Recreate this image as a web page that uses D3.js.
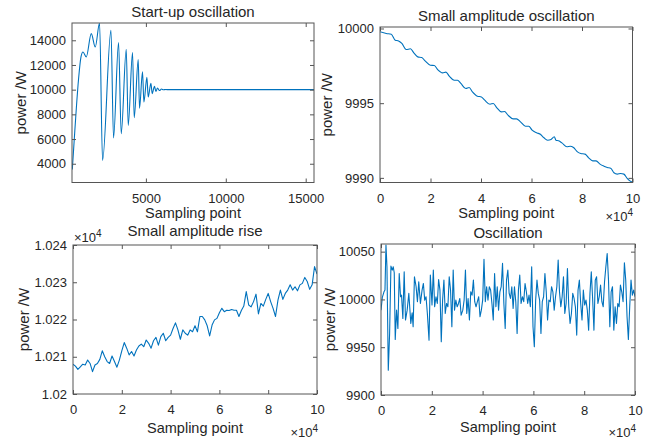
<!DOCTYPE html>
<html>
<head>
<meta charset="utf-8">
<script src="https://cdn.jsdelivr.net/npm/d3@7"></script>
<style>
  body { margin: 0; background: #fff; }
  svg { display: block; font-family: "Liberation Sans", Arial, Helvetica, sans-serif; }
</style>
</head>
<body>
<svg id="chart" width="654" height="442"></svg>
<script>
// ---- Start-up oscillation (peaks and troughs) ----
const startX = [394, 519, 644, 788, 938, 1063, 1269, 1581, 1831, 2100, 2288, 2813, 2975, 3288, 3456, 3769, 3894, 4163, 4269, 4519, 4600, 4788, 4875, 5063, 5144, 5313, 5394, 5538, 5625, 5725, 5850, 5975, 6100, 6250, 6400, 15520];
const startY = [3540, 6030, 8460, 10900, 12650, 13050, 12650, 14540, 13460, 15400, 4270, 14810, 6080, 13810, 6435, 13270, 7108, 13000, 7730, 12430, 8500, 11450, 9000, 11000, 9400, 10520, 9680, 10280, 9850, 10130, 9930, 10050, 9990, 10010, 10000, 10000];
const startXTicks = [5000, 10000, 15000];
const startXLabels = ["5000", "10000", "15000"];
const startYTicks = [4000, 6000, 8000, 10000, 12000, 14000];
const startYLabels = ["4000", "6000", "8000", "10000", "12000", "14000"];

// ---- Small amplitude oscillation ----
const driftX = [0, 2490, 4460, 6040, 7350, 8660, 10370, 12070, 13390, 14960, 16540, 17850, 19950, 21520, 22830, 24800, 26120, 27430, 29400, 30710, 32020, 33990, 35300, 36610, 38580, 40160, 41470, 43570, 44880, 46190, 48030, 49340, 50660, 52760, 54070, 55640, 57610, 58920, 60240, 62200, 63520, 64830, 66400, 67720, 69030, 69690, 70730, 72050, 74020, 75330, 76640, 78210, 79530, 81230, 82550, 84250, 85560, 87140, 88710, 90030, 91340, 92650, 93960, 95280, 96590, 97900, 98950, 100000];
const driftY = [9999.78, 9999.67, 9999.62, 9999.22, 9999.17, 9999.00, 9998.59, 9998.64, 9998.37, 9998.10, 9998.06, 9997.83, 9997.54, 9997.52, 9997.25, 9997.03, 9997.08, 9996.81, 9996.54, 9996.54, 9996.32, 9995.98, 9996.05, 9995.76, 9995.47, 9995.42, 9995.20, 9994.93, 9994.98, 9994.71, 9994.42, 9994.44, 9994.20, 9993.95, 9993.95, 9993.75, 9993.46, 9993.46, 9993.19, 9993.01, 9992.92, 9992.70, 9992.52, 9992.57, 9992.75, 9992.52, 9992.48, 9992.34, 9992.08, 9992.12, 9992.03, 9991.74, 9991.63, 9991.59, 9991.36, 9991.14, 9991.14, 9990.92, 9990.78, 9990.69, 9990.65, 9990.34, 9990.25, 9990.29, 9990.25, 9989.96, 9989.80, 9989.71];
const driftYTicks = [9990, 9995, 10000];
const driftYLabels = ["9990", "9995", "10000"];

// shared sampling-point ticks (x 10^4)
const sampleTicks = [0, 20000, 40000, 60000, 80000, 100000];
const sampleLabels = ["0", "2", "4", "6", "8", "10"];

// ---- Small amplitude rise (one reading every 1000 sampling points) ----
const riseStep = 1000;
const riseY = [10208.0, 10207.5, 10206.6, 10207.3, 10208.0, 10207.8, 10209.1, 10208.2, 10206.0, 10207.8,
  10208.2, 10209.3, 10211.6, 10210.0, 10208.7, 10208.2, 10210.2, 10208.7, 10207.2, 10209.1,
  10211.6, 10213.8, 10212.3, 10210.5, 10211.4, 10210.2, 10211.8, 10212.9, 10213.4, 10212.7,
  10214.5, 10213.6, 10212.3, 10214.3, 10215.2, 10213.1, 10215.4, 10216.3, 10214.3, 10215.2,
  10215.8, 10217.6, 10219.1, 10217.2, 10214.7, 10217.2, 10216.3, 10215.8, 10217.2, 10216.7,
  10218.3, 10216.7, 10220.8, 10220.8, 10219.9, 10218.3, 10215.6, 10218.5, 10219.9, 10220.3,
  10221.8, 10223.0, 10222.1, 10222.5, 10222.4, 10222.7, 10222.5, 10222.5, 10220.8, 10222.4,
  10223.6, 10227.5, 10223.9, 10223.4, 10224.8, 10226.8, 10221.5, 10224.3, 10223.6, 10225.4,
  10227.0, 10224.8, 10223.0, 10220.8, 10225.2, 10227.9, 10225.4, 10227.0, 10227.9, 10229.3,
  10227.9, 10228.8, 10227.7, 10229.3, 10229.7, 10231.3, 10230.2, 10228.1, 10229.3, 10234.2,
  10232.2];
const riseYTicks = [10200, 10210, 10220, 10230, 10240];
const riseYLabels = ["1.02", "1.021", "1.022", "1.023", "1.024"];

// ---- Oscillation ----
const oscX = [0, 522, 1173, 1565, 1956, 2347, 2868, 3390, 3911, 4433, 4824, 5215, 5606, 6128, 6649, 7171, 7692, 8084, 8605, 9127, 9648, 10300, 10952, 11734, 12256, 12647, 13168, 13820, 14342, 14863, 15515, 16167, 16689, 17210, 17732, 18253, 18905, 19427, 20079, 20600, 21122, 21643, 22165, 22686, 23208, 23729, 24251, 24772, 25294, 25815, 26337, 26858, 27380, 27901, 28423, 28944, 29466, 29987, 30509, 31030, 31552, 32204, 32725, 33247, 33768, 34290, 34811, 35333, 35854, 36376, 36897, 37419, 37940, 38462, 38983, 39505, 40027, 40548, 41070, 41591, 42113, 42634, 43156, 43677, 44199, 44720, 45242, 45763, 46285, 46806, 47328, 47849, 48371, 48892, 49414, 49935, 50457, 50978, 51500, 52021, 52543, 53064, 53586, 54107, 54629, 55150, 55672, 56194, 56715, 57237, 57758, 58280, 58801, 59323, 59844, 60366, 60887, 61409, 61930, 62452, 62973, 63495, 64016, 64538, 65059, 65581, 66102, 66624, 67145, 67667, 68188, 68710, 69231, 69753, 70274, 70796, 71317, 71839, 72360, 72882, 73403, 73925, 74446, 74968, 75489, 76011, 76532, 77054, 77575, 78097, 78618, 79140, 79661, 80183, 80704, 81226, 81747, 82269, 82790, 83312, 83833, 84355, 84876, 85398, 85919, 86441, 86962, 87484, 88005, 88527, 89048, 89570, 90091, 90613, 91134, 91656, 92178, 92699, 93221, 93742, 94264, 94785, 95307, 95828, 96350, 96871, 97393, 97914, 98436, 98957, 99479, 100000];
const oscY = [9988.8, 10002.1, 10008.0, 10009.8, 10056.9, 10034.2, 9926.0, 9964.4, 10034.9, 10030.7,
  10034.2, 10027.9, 9958.1, 9988.8, 9969.6, 10027.2, 10002.8, 10004.5, 9980.1, 10029.0,
  9978.4, 9988.8, 10006.3, 9974.9, 9986.0, 9971.4, 10023.7, 10013.3, 9997.6, 10018.5,
  9995.8, 10009.8, 10016.7, 9999.3, 10002.8, 9985.3, 9957.4, 10025.5, 9994.1, 10030.7,
  9992.3, 10002.8, 9995.8, 10020.9, 10009.8, 9955.7, 9999.3, 10020.2, 9985.3, 9995.8,
  9992.3, 10023.7, 10009.8, 9971.4, 10030.7, 9988.8, 9999.3, 9992.3, 9995.8, 10001.0,
  9983.6, 9988.8, 9999.3, 10030.7, 9985.3, 10001.0, 9978.4, 10008.0, 10004.5, 10020.2,
  9997.6, 9992.3, 9997.6, 10002.8, 9981.9, 9988.8, 9999.3, 10041.9, 9997.6, 10013.3,
  9999.3, 10013.3, 10009.8, 9995.8, 9978.4, 10027.2, 9992.3, 10013.3, 9988.8, 10008.0,
  10013.3, 10037.7, 9995.8, 9969.6, 10020.2, 10030.7, 10006.3, 10001.0, 10013.3, 9990.6,
  10013.3, 9997.6, 9964.4, 10009.8, 10025.5, 9995.8, 10002.8, 9997.6, 10016.7, 10008.0,
  9995.8, 10004.5, 9992.3, 10034.2, 9971.4, 9950.5, 9999.3, 10020.2, 10006.3, 9999.3,
  9964.4, 9997.6, 10002.8, 10027.2, 10008.0, 9978.4, 9999.3, 9997.6, 10013.3, 10008.0,
  9988.8, 10002.8, 10013.3, 10041.2, 10008.0, 9992.3, 10002.8, 10023.7, 9985.3, 9995.8,
  10032.4, 9992.3, 9974.9, 9985.3, 10006.3, 10001.0, 9992.3, 9962.7, 10009.8, 10020.2,
  9995.8, 9978.4, 10009.8, 9994.1, 9999.3, 9988.8, 9967.9, 10006.3, 10029.0, 10001.0,
  9967.9, 10020.2, 10023.7, 9995.8, 10002.8, 10015.0, 9997.6, 9992.3, 10018.5, 10034.2,
  10048.1, 10020.2, 9971.4, 10008.0, 10013.3, 9967.9, 9992.3, 9974.9, 9995.8, 9992.3,
  10015.0, 10008.0, 9997.6, 10038.4, 10020.2, 9981.9, 9958.1, 9992.3, 10020.2, 10004.5,
  10009.8, 10002.8];
const oscYTicks = [9900, 9950, 10000, 10050];
const oscYLabels = ["9900", "9950", "10000", "10050"];

const titles = ["Start-up oscillation", "Small amplitude oscillation", "Small amplitude rise", "Oscillation"];
const xTitle = "Sampling point";
const yTitle = "power /W";

const lineColor = "#0072BD";
const textColor = "#262626";
const axisColor = "#555555";

const svg = d3.select("#chart");

function drawPanel(p) {
  const w = p.width, h = p.height;
  const g = svg.append("g").attr("transform", `translate(${p.left},${p.top})`);

  const x = d3.scaleLinear().domain(p.xDomain).range([0, w]);
  const y = d3.scaleLinear().domain(p.yDomain).range([h, 0]);

  // clip the trace to the axes box like matlab does
  g.append("clipPath").attr("id", "clip-" + p.id)
    .append("rect").attr("width", w).attr("height", h);

  const line = d3.line()
    .x(d => x(d[0]))
    .y(d => y(d[1]))
    .curve(p.curve || d3.curveLinear);

  g.append("path")
    .datum(d3.zip(p.xs, p.ys))
    .attr("clip-path", `url(#clip-${p.id})`)
    .attr("d", line)
    .style("fill", "none")
    .style("stroke", lineColor)
    .style("stroke-width", 1.1)
    .style("stroke-linejoin", "round");

  // axes, ticks pointing inwards on all four sides
  const axes = [
    { axis: d3.axisBottom(x).tickValues(p.xTicks).tickFormat((d, i) => p.xLabels[i]).tickPadding(11), t: `translate(0,${h})` },
    { axis: d3.axisTop(x).tickValues(p.xTicks).tickFormat(""), t: "translate(0,0)" },
    { axis: d3.axisLeft(y).tickValues(p.yTicks).tickFormat((d, i) => p.yLabels[i]).tickPadding(6), t: "translate(0,0)" },
    { axis: d3.axisRight(y).tickValues(p.yTicks).tickFormat(""), t: `translate(${w},0)` }
  ];
  axes.forEach(a => {
    const ag = g.append("g").attr("transform", a.t)
      .call(a.axis.tickSize(-4).tickSizeOuter(0));
    ag.attr("font-family", null).attr("font-size", null);
    ag.select(".domain").remove();
    ag.selectAll(".tick line").attr("stroke", axisColor);
    ag.selectAll(".tick text").attr("fill", textColor).style("font-size", "13px");
  });

  g.append("rect")
    .attr("width", w).attr("height", h)
    .style("fill", "none")
    .style("stroke", axisColor)
    .style("stroke-width", 1);

  // titles and labels
  svg.append("text")
    .attr("x", p.left + w / 2).attr("y", p.titleY)
    .attr("text-anchor", "middle")
    .style("font-size", "15px").style("fill", textColor)
    .text(p.title);

  svg.append("text")
    .attr("x", p.left + w / 2).attr("y", p.xLabelY)
    .attr("text-anchor", "middle")
    .style("font-size", "14.5px").style("fill", textColor)
    .text(xTitle);

  svg.append("text")
    .attr("transform", `translate(${p.yLabelX},${p.top + h / 2}) rotate(-90)`)
    .attr("text-anchor", "middle")
    .style("font-size", "15px").style("fill", textColor)
    .text(yTitle);

  // x10^4 multipliers
  (p.exps || []).forEach(e => {
    const t = svg.append("text")
      .attr("x", e.x).attr("y", e.y)
      .attr("text-anchor", e.anchor)
      .style("font-size", "13px").style("fill", textColor);
    t.append("tspan").text("\u00d710");
    t.append("tspan").attr("dy", -5).style("font-size", "10px").text("4");
  });
}

drawPanel({
  id: "startup", title: titles[0],
  left: 72, top: 23, width: 242, height: 159.5,
  xDomain: [375, 15520], yDomain: [2480, 15400],
  xs: startX, ys: startY, curve: d3.curveMonotoneX,
  xTicks: startXTicks, xLabels: startXLabels,
  yTicks: startYTicks, yLabels: startYLabels,
  titleY: 17, xLabelY: 217.5, yLabelX: 26
});

drawPanel({
  id: "drift", title: titles[1],
  left: 380, top: 27, width: 252.5, height: 155.5,
  xDomain: [0, 100000], yDomain: [9989.69, 10000.1],
  xs: driftX, ys: driftY, curve: d3.curveMonotoneX,
  xTicks: sampleTicks, xLabels: sampleLabels,
  yTicks: driftYTicks, yLabels: driftYLabels,
  titleY: 20.5, xLabelY: 218, yLabelX: 332,
  exps: [{ x: 633, y: 221, anchor: "end" }]
});

drawPanel({
  id: "rise", title: titles[2],
  left: 73, top: 245, width: 244, height: 149,
  xDomain: [0, 100000], yDomain: [10200, 10240],
  xs: riseY.map((v, i) => i * riseStep), ys: riseY,
  xTicks: sampleTicks, xLabels: sampleLabels,
  yTicks: riseYTicks, yLabels: riseYLabels,
  titleY: 236, xLabelY: 432.5, yLabelX: 29,
  exps: [{ x: 318, y: 437, anchor: "end" }, { x: 74, y: 241.5, anchor: "start" }]
});

drawPanel({
  id: "osc", title: titles[3],
  left: 381, top: 244, width: 254, height: 151,
  xDomain: [0, 100000], yDomain: [9900, 10058],
  xs: oscX, ys: oscY,
  xTicks: sampleTicks, xLabels: sampleLabels,
  yTicks: oscYTicks, yLabels: oscYLabels,
  titleY: 238, xLabelY: 432, yLabelX: 335,
  exps: [{ x: 636, y: 437, anchor: "end" }]
});
</script>
</body>
</html>
